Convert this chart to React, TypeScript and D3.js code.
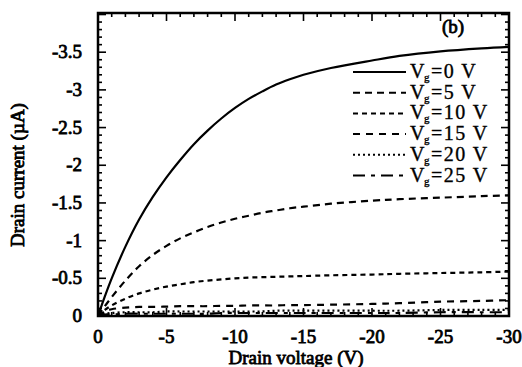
import React, { useEffect, useRef } from 'react';
import * as d3 from 'd3';

const vd = [0, -0.5, -1, -2, -3, -4, -5, -6, -7, -8, -9, -10, -11, -12, -13, -14, -15, -17, -20, -22, -25, -28, -30];
const id0 = [0, -0.26, -0.5, -0.92, -1.28, -1.58, -1.84, -2.07, -2.28, -2.46, -2.62, -2.76, -2.88, -2.98, -3.07, -3.14, -3.2, -3.29, -3.39, -3.45, -3.51, -3.55, -3.57];
const id5 = [0, -0.13, -0.25, -0.47, -0.66, -0.81, -0.93, -1.03, -1.11, -1.18, -1.24, -1.29, -1.33, -1.37, -1.4, -1.43, -1.45, -1.49, -1.53, -1.55, -1.57, -1.59, -1.6];
const id10 = [0, -0.08, -0.14, -0.23, -0.3, -0.35, -0.39, -0.42, -0.45, -0.47, -0.485, -0.5, -0.51, -0.515, -0.52, -0.525, -0.53, -0.54, -0.55, -0.56, -0.57, -0.58, -0.59];
const id15 = [0, -0.06, -0.09, -0.11, -0.12, -0.12, -0.125, -0.13, -0.13, -0.13, -0.135, -0.135, -0.14, -0.14, -0.14, -0.145, -0.145, -0.15, -0.16, -0.17, -0.19, -0.2, -0.21];
const id20 = [0, -0.03, -0.04, -0.05, -0.05, -0.05, -0.06, -0.06, -0.06, -0.06, -0.06, -0.06, -0.06, -0.06, -0.07, -0.07, -0.07, -0.07, -0.07, -0.07, -0.08, -0.08, -0.08];
const id25 = [0, -0.02, -0.02, -0.03, -0.03, -0.03, -0.03, -0.03, -0.03, -0.03, -0.04, -0.04, -0.04, -0.04, -0.04, -0.04, -0.04, -0.04, -0.04, -0.04, -0.05, -0.05, -0.05];

const seriesNames = ['V_g=0 V', 'V_g=5 V', 'V_g=10 V', 'V_g=15 V', 'V_g=20 V', 'V_g=25 V'];
const seriesValues = [id0, id5, id10, id15, id20, id25];
const dashes = ['none', '7,5', '5,4', '7,6', '2,3', '12,6,4,6'];

const xTicks = [0, -5, -10, -15, -20, -25, -30];
const yTicks = [0, -0.5, -1, -1.5, -2, -2.5, -3, -3.5];

const W = 522;
const H = 367;
const margin = { top: 13, right: 13, bottom: 51, left: 98 };

const App = () => {
  const svgRef = useRef<SVGSVGElement>(null);

  useEffect(() => {
    const svg = d3.select(svgRef.current);
    svg.selectAll('*').remove();
    const iw = W - margin.left - margin.right;
    const ih = H - margin.top - margin.bottom;
    const font = "'Liberation Serif', 'Times New Roman', Times, serif";

    // faux-bold: regular serif face with a thin outline
    const bold = (sel: any) =>
      sel.style('font-family', font)
        .attr('font-weight', 'normal')
        .attr('stroke', '#000')
        .attr('stroke-width', 0.8)
        .attr('fill', '#000');

    const x = d3.scaleLinear().domain([0, -30]).range([0, iw]);
    const y = d3.scaleLinear().domain([0, -4.02]).range([ih, 0]);

    const g = svg.append('g').attr('transform', `translate(${margin.left},${margin.top})`);

    // curves
    const line = d3.line<number>()
      .x((_, i) => x(vd[i]))
      .y(d => y(d))
      .curve(d3.curveCatmullRom);

    seriesValues.forEach((vals, k) => {
      g.append('path')
        .datum(vals)
        .attr('fill', 'none')
        .attr('stroke', '#000')
        .attr('stroke-width', 2.2)
        .attr('stroke-dasharray', dashes[k])
        .attr('d', line);
    });

    // ticks on all sides, pointing inward
    const minorX = d3.range(0, -31, -1);
    const minorY = d3.range(0, -4.01, -0.1);

    const tickG = g.append('g').attr('stroke', '#000').attr('stroke-width', 1.6);
    minorX.forEach(v => {
      const major = Math.abs(v % 5) < 1e-6;
      const len = major ? 8 : 4;
      tickG.append('line').attr('x1', x(v)).attr('x2', x(v)).attr('y1', ih).attr('y2', ih - len);
      tickG.append('line').attr('x1', x(v)).attr('x2', x(v)).attr('y1', 0).attr('y2', len);
    });
    minorY.forEach(v => {
      const major = Math.abs(Math.round(v * 10) % 5) === 0;
      const len = major ? 8 : 4;
      tickG.append('line').attr('x1', 0).attr('x2', len).attr('y1', y(v)).attr('y2', y(v));
      tickG.append('line').attr('x1', iw).attr('x2', iw - len).attr('y1', y(v)).attr('y2', y(v));
    });

    // frame
    g.append('rect')
      .attr('width', iw)
      .attr('height', ih)
      .attr('fill', 'none')
      .attr('stroke', '#000')
      .attr('stroke-width', 2.5);

    // tick labels
    g.selectAll('.xl')
      .data(xTicks)
      .enter()
      .append('text')
      .attr('x', d => x(d))
      .attr('y', ih + 27)
      .attr('text-anchor', 'middle')
      .attr('font-size', 19)
      .call(bold)
      .text(d => (d === 0 ? '0' : String(d)));

    g.selectAll('.yl')
      .data(yTicks)
      .enter()
      .append('text')
      .attr('x', -16)
      .attr('y', d => y(d) + 6)
      .attr('text-anchor', 'end')
      .attr('font-size', 19)
      .call(bold)
      .text(d => (d === 0 ? '0' : String(d)));

    // axis titles
    svg.append('text')
      .attr('x', 296)
      .attr('y', H - 3)
      .attr('text-anchor', 'middle')
      .attr('font-size', 19)
      .call(bold)
      .text('Drain voltage (V)');

    svg.append('text')
      .attr('transform', `translate(24,175) rotate(-90)`)
      .attr('text-anchor', 'middle')
      .attr('font-size', 19)
      .call(bold)
      .text('Drain current (µA)');

    // panel label
    svg.append('text')
      .attr('x', 442)
      .attr('y', 33)
      .attr('font-size', 19)
      .call(bold)
      .text('(b)');

    // legend
    const leg = svg.append('g');
    seriesNames.forEach((name, k) => {
      const yy = 72 + k * 20.7;
      leg.append('line')
        .attr('x1', 353).attr('x2', 406)
        .attr('y1', yy).attr('y2', yy)
        .attr('stroke', '#000')
        .attr('stroke-width', 2)
        .attr('stroke-dasharray', dashes[k]);
      const [pre, rest] = name.split('_');
      const t = leg.append('text')
        .attr('x', 410)
        .attr('y', yy + 6)
        .style('font-family', font)
        .attr('font-size', 20)
        .attr('letter-spacing', 1.5)
        .attr('stroke', '#000')
        .attr('stroke-width', 0.35);
      t.append('tspan').text(pre);
      t.append('tspan').attr('font-size', 11).attr('dy', 3).attr('dx', -2).text(rest.charAt(0));
      t.append('tspan').attr('dy', -3).text(rest.slice(1));
    });
  }, []);

  return (
    <svg ref={svgRef} width={W} height={H} style={{ position: 'absolute', left: 0, top: 0, background: '#fff' }} />
  );
};

export default App;
